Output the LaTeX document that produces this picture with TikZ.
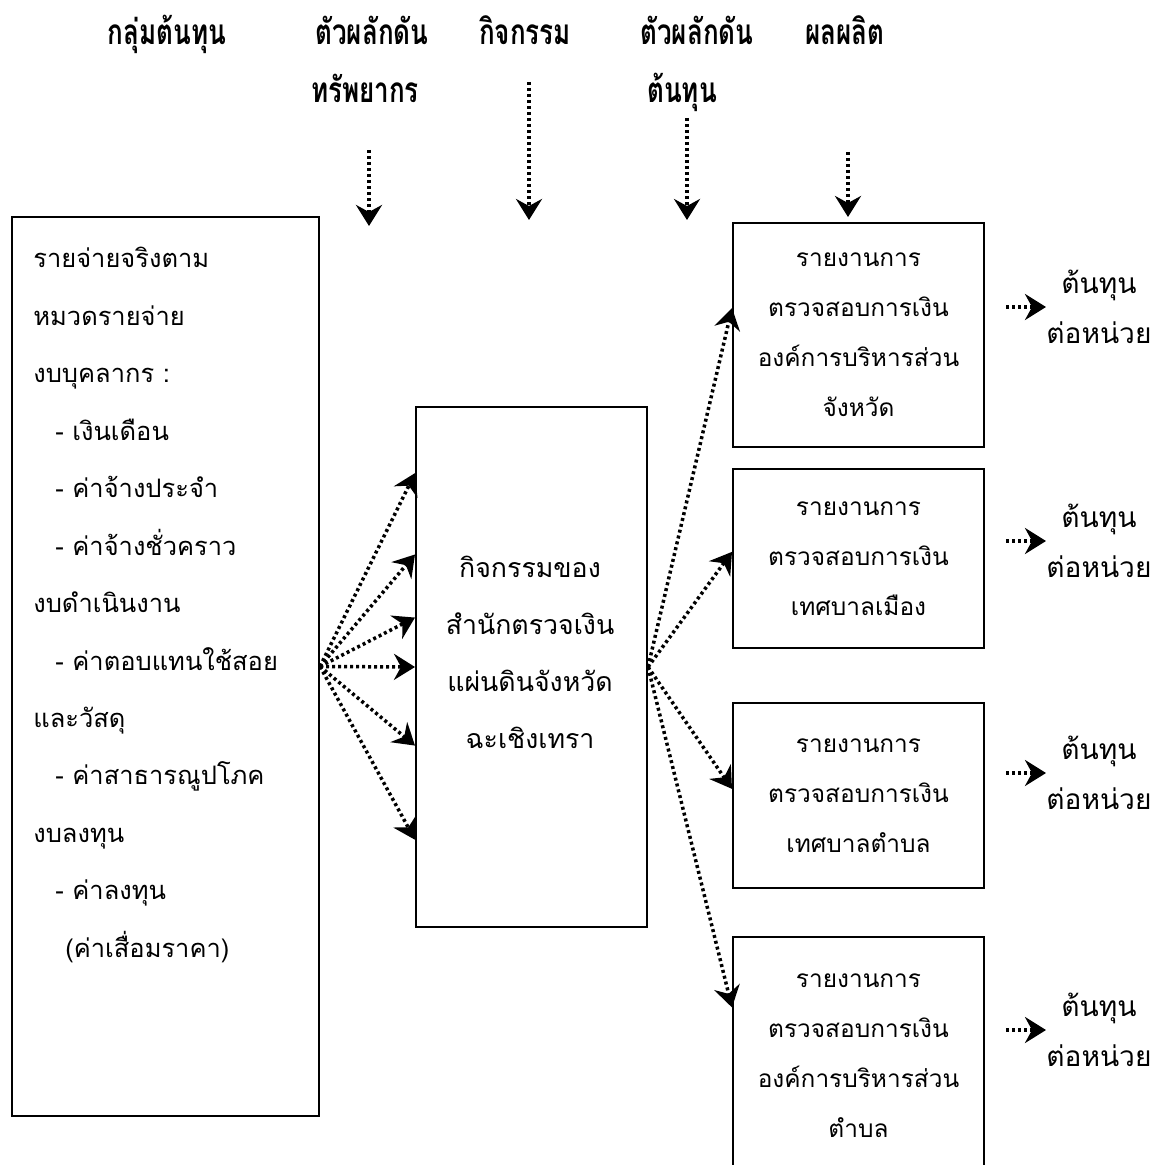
\documentclass[tikz,border=0pt]{standalone}
\usepackage{fontspec}
\setmainfont[Script=Thai]{Loma}
\newfontfamily\headfont[Script=Thai,FakeStretch=0.74]{Loma}
\usetikzlibrary{arrows.meta}

\tikzset{
	box/.style={draw, line width=0.4mm, inner sep=0pt, align=center, font=\fontsize{13.9}{28.45}\selectfont},
	head/.style={anchor=base, inner sep=0pt, font=\headfont\bfseries\fontsize{20}{22}\selectfont},
	unit/.style={anchor=west, inner sep=0pt, align=center, font=\fontsize{16}{28.45}\selectfont},
	dotarrow/.style={line width=0.7mm, dash pattern=on 0.6mm off 0.6mm, -{Stealth[length=4.2mm,width=5.2mm,inset=1.4mm]}},
}

\begin{document}
\begin{tikzpicture}[x=0.2mm, y=-0.2mm]
	\useasboundingbox (0,0) rectangle (1153,1165);
	% headings
	\node [head] (hcost) at (167,45) {กลุ่มต้นทุน};
	\node [head] (hres) at (372,45) {ตัวผลักดัน};
	\node [head] (hresb) at (365,103) {ทรัพยากร};
	\node [head] (hact) at (525,45) {กิจกรรม};
	\node [head] (hdrv) at (697,45) {ตัวผลักดัน};
	\node [head] (hdrvb) at (682,103) {ต้นทุน};
	\node [head] (hout) at (845,45) {ผลผลิต};
	% cost pool
	\node [box, minimum width=61.4mm, minimum height=179.8mm] (cost) at (165.5,666.5) {};
	\node [anchor=west, inner sep=0pt, align=left, font=\fontsize{14.5}{32.7}\selectfont] (costtext) at (33,605) {รายจ่ายจริงตาม\\หมวดรายจ่าย\\งบบุคลากร :\\\hspace*{4.4mm}- เงินเดือน\\\hspace*{4.4mm}- ค่าจ้างประจำ\\\hspace*{4.4mm}- ค่าจ้างชั่วคราว\\งบดำเนินงาน\\\hspace*{4.4mm}- ค่าตอบแทนใช้สอย\\และวัสดุ\\\hspace*{4.4mm}- ค่าสาธารณูปโภค\\งบลงทุน\\\hspace*{4.4mm}- ค่าลงทุน\\\hspace*{6.4mm}(ค่าเสื่อมราคา)};
	% activity
	\node [box, minimum width=46.2mm, minimum height=104mm] (act) at (531.5,667) {};
	\node [align=center, inner sep=0pt, font=\fontsize{15.2}{32.4}\selectfont] (acttext) at (530,652) {กิจกรรมของ\\สำนักตรวจเงิน\\แผ่นดินจังหวัด\\ฉะเชิงเทรา};
	% outputs
	\node [box, minimum width=50.2mm, minimum height=44.8mm] (r1) at (858.5,335) {รายงานการ\\ตรวจสอบการเงิน\\องค์การบริหารส่วน\\จังหวัด};
	\node [box, minimum width=50.2mm, minimum height=35.8mm] (r2) at (858.5,558.5) {รายงานการ\\ตรวจสอบการเงิน\\เทศบาลเมือง};
	\node [box, minimum width=50.2mm, minimum height=37mm] (r3) at (858.5,795.5) {รายงานการ\\ตรวจสอบการเงิน\\เทศบาลตำบล};
	\node [box, minimum width=50.2mm, minimum height=47.6mm] (r4) at (858.5,1056) {รายงานการ\\ตรวจสอบการเงิน\\องค์การบริหารส่วน\\ตำบล};
	% unit costs
	\node [unit] (u1) at (1046,307) {ต้นทุน\\ต่อหน่วย};
	\node [unit] (u2) at (1046,541) {ต้นทุน\\ต่อหน่วย};
	\node [unit] (u3) at (1046,773) {ต้นทุน\\ต่อหน่วย};
	\node [unit] (u4) at (1046,1030) {ต้นทุน\\ต่อหน่วย};
	\coordinate (u1s) at (1006,307);
	\coordinate (u2s) at (1006,541);
	\coordinate (u3s) at (1006,773);
	\coordinate (u4s) at (1006,1030);
	% heading arrows
	\coordinate (t1s) at (369,150);
	\coordinate (t1e) at (369,226);
	\coordinate (t2s) at (529,82);
	\coordinate (t2e) at (529,220);
	\coordinate (t3s) at (687,118);
	\coordinate (t3e) at (687,220);
	\coordinate (t4s) at (848,152);
	\coordinate (t4e) at (848,217);
	\draw [dotarrow] (t1s) -- (t1e);
	\draw [dotarrow] (t2s) -- (t2e);
	\draw [dotarrow] (t3s) -- (t3e);
	\draw [dotarrow] (t4s) -- (t4e);
	% cost pool to activity
	\draw [dotarrow] (cost.east) -- (act.121.7);
	\draw [dotarrow] (cost.east) -- (act.136.4);
	\draw [dotarrow] (cost.east) -- (act.157.9);
	\draw [dotarrow] (cost.east) -- (act.west);
	\draw [dotarrow] (cost.east) -- (act.214.7);
	\draw [dotarrow] (cost.east) -- (act.236.3);
	% activity to outputs
	\draw [dotarrow] (act.east) -- (r1.168.7);
	\draw [dotarrow] (act.east) -- (r2.177.5);
	\draw [dotarrow] (act.east) -- (r3.177.5);
	\draw [dotarrow] (act.east) -- (r4.159.1);
	% outputs to unit costs
	\draw [dotarrow] (u1s) -- (u1.west);
	\draw [dotarrow] (u2s) -- (u2.west);
	\draw [dotarrow] (u3s) -- (u3.west);
	\draw [dotarrow] (u4s) -- (u4.west);
\end{tikzpicture}
\end{document}
